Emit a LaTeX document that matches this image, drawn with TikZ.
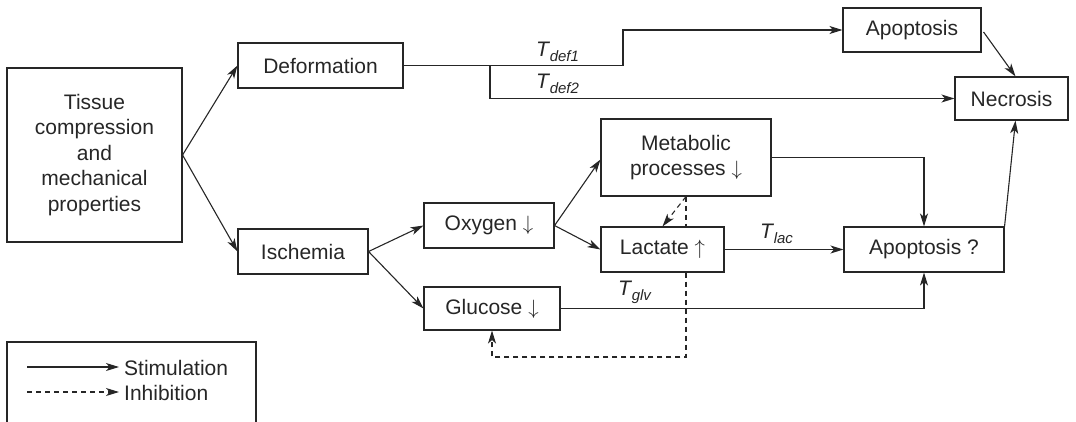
\documentclass[tikz,border=0pt]{standalone}
\usepackage{fontspec}
\setmainfont{Liberation Sans}
\usetikzlibrary{arrows.meta,calc}
\newcommand\fs{\fontsize{21}{25.5}\selectfont}
\newcommand\tsub[1]{\textit{T}\kern-0.5pt\raisebox{-5pt}{\fontsize{15}{15}\selectfont\textit{#1}}}
\begin{document}
\begin{tikzpicture}[x=1pt,y=-1pt,
  box/.style={draw, line width=1.1pt, inner sep=0pt, align=center, font=\fs, color=black!85},
  arr/.style={line width=1.1pt, color=black!85, -{Stealth[length=13pt,width=8pt,inset=3.5pt]}},
  inh/.style={arr, dash pattern=on 5pt off 4pt},
  plainln/.style={line width=1.1pt, color=black!85},
  dashln/.style={line width=1.1pt, color=black!85, dash pattern=on 5pt off 4pt},
  lbl/.style={font=\fs, inner sep=0pt, anchor=base west, color=black!85}]
\useasboundingbox (0,0) rectangle (1076,421);

% nodes
\node[box, minimum width=175pt, minimum height=174pt] (tissue) at (94.5,155) {Tissue\\compression\\and\\mechanical\\properties};
\node[box, minimum width=165pt, minimum height=45pt] (deform) at (320.5,65.5) {Deformation};
\node[box, minimum width=130pt, minimum height=45pt] (isch) at (303,251.5) {Ischemia};
\node[box, minimum width=130pt, minimum height=45pt] (oxy) at (489,225.5) {Oxygen $\downarrow$};
\node[box, minimum width=136pt, minimum height=43pt] (gluc) at (492,308.5) {Glucose $\downarrow$};
\node[box, minimum width=170pt, minimum height=77pt] (metab) at (686,157.5) {Metabolic\\processes $\downarrow$};
\node[box, minimum width=123pt, minimum height=45pt] (lact) at (662.5,249.5) {Lactate $\uparrow$};
\node[box, minimum width=160pt, minimum height=45pt] (apo2) at (924,249.5) {Apoptosis ?};
\node[box, minimum width=138pt, minimum height=44pt] (apo1) at (912,30) {Apoptosis};
\node[box, minimum width=113pt, minimum height=43pt] (necr) at (1011.5,98.5) {Necrosis};

% helper coordinates
\coordinate (br) at (490,65.5);
\coordinate (st) at (623,65.5);
\coordinate (dlow) at (686,357);

% connectors
\draw[arr] (tissue.east) -- (deform.west);
\draw[arr] (tissue.east) -- (isch.west);
\draw[arr] (deform.east) -- (st) -- (st |- apo1.west) -- (apo1.west);
\draw[arr] (br) |- (necr.west);
\draw[arr] ($(apo1.east)+(2,2)$) -- ($(necr.north)+(4,0)$);
\draw[arr] (isch.east) -- (oxy.west);
\draw[arr] (isch.east) -- (gluc.west);
\draw[arr] (oxy.east) -- ($(metab.west)+(0,2)$);
\draw[arr] (oxy.east) -- (lact.west);
\draw[arr] (metab.east) -| (apo2.north);
\draw[arr] (lact.east) -- (apo2.west);
\draw[arr] (gluc.east) -| (apo2.south);
\draw[arr] (apo2.north east) -- ($(necr.south)+(4,0)$);

% inhibition
\draw[inh] (metab.south) -- (lact.north);
\draw[dashln] (metab.south) -- (metab.south |- lact.north);
\draw[inh] (metab.south |- lact.south) -- (dlow) -| (gluc.south);

% labels
\node[lbl] (l1) at (536,56) {\tsub{def1}};
\node[lbl] (l2) at (536,88) {\tsub{def2}};
\node[lbl] (l3) at (760,238) {\tsub{lac}};
\node[lbl] (l4) at (618,295) {\tsub{glv}};

% legend
\draw[plainln] (7,425) |- (256,342) -- (256,425);
\coordinate (s1) at (27,367);
\coordinate (s2) at (119,367);
\coordinate (i1) at (27,392);
\coordinate (i2) at (119,392);
\draw[arr] (s1) -- (s2);
\draw[inh] (i1) -- (i2);
\node[lbl] (ls) at (124,375) {Stimulation};
\node[lbl] (li) at (124,400) {Inhibition};
\end{tikzpicture}
\end{document}
